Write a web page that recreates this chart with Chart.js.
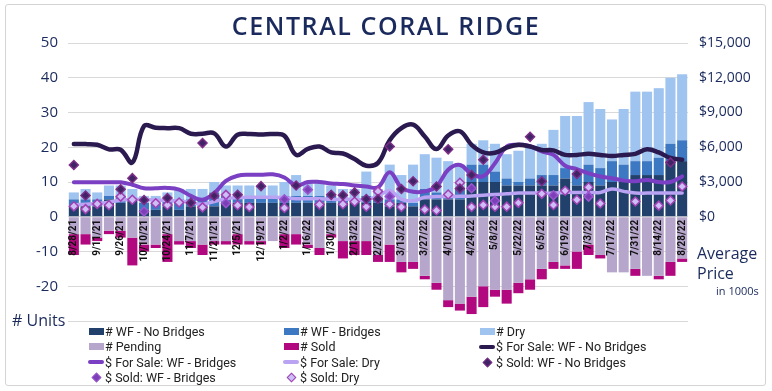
<!DOCTYPE html>
<html lang="en">
<head>
  <meta charset="UTF-8" />
  <title>Central Coral Ridge</title>
  <script src="https://cdn.jsdelivr.net/npm/chart.js"></script>
  <style>
    html, body { margin: 0; padding: 0; background: #fff; }
    #wrap { position: relative; width: 772px; height: 391px; overflow: hidden; font-family: 'Open Sans', sans-serif; color: #1c2b5a; }
    #frame { position: absolute; left: 5px; top: 4px; width: 759px; height: 380px; border: 1px solid #d4d4d4; border-radius: 3px; }
    #title { position: absolute; left: 0; top: 8px; width: 772px; text-align: center; font-size: 25px; font-weight: 600; letter-spacing: 1.6px; color: #1a2a5c; }
    canvas { position: absolute; left: 0; top: 0; }
    .side { position: absolute; color: #1a2a5c; white-space: nowrap; }
    .item { position: absolute; display: flex; align-items: center; height: 15px; font-family: Roboto, sans-serif; font-size: 12.5px; color: #222; white-space: nowrap; }
    .mk { width: 16px; height: 15px; display: flex; align-items: center; justify-content: center; margin-right: 1px; }
  </style>
</head>
<body>
  <div id="wrap">
    <div id="frame"></div>
    <canvas id="chart" width="772" height="391"></canvas>
    <div id="title">CENTRAL CORAL RIDGE</div>
    <div class="side" style="left:12px; top:309px; font-size:16px;"># Units</div>
    <div class="side" style="left:697px; top:243px; font-size:16px; line-height:20px;">Average<br>Price</div>
    <div class="side" style="left:716px; top:283px; font-size:11px;">in 1000s</div>
    <div id="legend"></div>
  </div>

  <script>
    // 주차별 날짜 (짝수 번째만 축에 표시)
    const labels = [
      '8/28/21', '9/4/21', '9/11/21', '9/19/21', '9/26/21', '10/3/21', '10/10/21', '10/17/21', '10/24/21', '10/31/21',
      '11/7/21', '11/14/21', '11/21/21', '11/28/21', '12/5/21', '12/12/21', '12/19/21', '12/26/21', '1/2/22', '1/9/22',
      '1/16/22', '1/23/22', '1/30/22', '2/6/22', '2/13/22', '2/20/22', '2/27/22', '3/6/22', '3/13/22', '3/20/22',
      '3/27/22', '4/3/22', '4/10/22', '4/17/22', '4/24/22', '5/1/22', '5/8/22', '5/15/22', '5/22/22', '5/29/22',
      '6/5/22', '6/12/22', '6/19/22', '6/26/22', '7/3/22', '7/10/22', '7/17/22', '7/24/22', '7/31/22', '8/7/22',
      '8/14/22', '8/21/22', '8/28/22'
    ];

    // # units (left axis)
    const wfNoBridges = [
      3, 3, 3, 5, 4, 5, 2, 2, 3, 2, 3, 3, 3,
      4, 4, 4, 4, 4, 4, 4, 4, 4, 4, 4, 4, 4, 4,
      3, 4, 3, 5, 5, 5, 5, 10, 10, 10, 9, 9, 9, 9,
      9, 11, 9, 10, 9, 10, 10, 12, 12, 12, 16, 16
    ];
    const wfBridges = [
      2, 2, 2, 1, 2, 0, 2, 2, 2, 3, 2, 2, 4,
      2, 2, 2, 2, 2, 2, 2, 2, 2, 2, 1, 1, 2, 1,
      2, 1, 1, 3, 2, 1, 3, 5, 5, 3, 2, 1, 2, 3,
      3, 3, 3, 5, 5, 6, 5, 4, 4, 5, 5, 6
    ];
    const dry = [
      2, 3, 2, 3, 3, 3, 2, 2, 2, 3, 3, 3, 3,
      3, 3, 3, 3, 3, 4, 6, 4, 4, 3, 3, 3, 7, 3,
      10, 7, 11, 10, 10, 10, 7, 6, 7, 8, 7, 9, 9, 9,
      13, 15, 17, 18, 17, 12, 16, 20, 20, 20, 19, 19
    ];
    const pending = [
      -5, -5, -6, -4, -4, -6, -8, -8, -5, -7, -7, -8, -7,
      -7, -5, -7, -7, -7, -5, -5, -8, -9, -5, -7, -7, -7, -11,
      -8, -13, -13, -17, -19, -24, -25, -23, -20, -21, -21, -19, -18, -15,
      -13, -14, -10, -8, -11, -16, -16, -15, -17, -17, -13, -12
    ];
    const sold = [
      -6, -3, -1, -1, -2, -8, -2, -1, -8, -1, -2, -3, -1,
      -1, -3, -1, -1, 0, -4, -3, -1, -2, -1, -5, -4, -4, -2,
      -5, -3, -2, -1, -2, -2, -2, -5, -6, -2, -4, -3, -3, -3,
      -2, -1, -5, -3, -1, 0, 0, -2, 0, -1, -4, -1
    ];

    // $ average price (right axis)
    const forSaleNoBridges = [
      6270, 6270, 6210, 5820, 5790, 4680, 7830, 7680, 7650, 7650,
      7170, 7170, 7200, 6060, 7080, 7140, 7110, 7140, 6990, 5340,
      5850, 6060, 5550, 5460, 4980, 4410, 4650, 6600, 7650, 7950,
      6930, 5850, 7020, 7380, 6210, 5550, 5520, 5970, 6210, 6060,
      5760, 5730, 5340, 5340, 5430, 5340, 5250, 5340, 5430, 5820,
      5550, 5070, 4920
    ];
    const forSaleBridges = [
      2970, 2970, 2970, 2970, 2970, 2760, 2460, 2460, 2490, 2340,
      1800, 1470, 2040, 3090, 3540, 3630, 3630, 3660, 3390, 2700,
      3000, 3000, 2880, 2820, 2700, 2610, 2550, 3840, 2520, 2160,
      2190, 2610, 4050, 4470, 3690, 3510, 4620, 6060, 6210, 6090,
      5640, 5340, 4410, 4110, 3750, 3480, 3330, 3120, 3060, 3180,
      3000, 3000, 3480
    ];
    const forSaleDry = [
      1020, 1080, 1140, 1260, 1440, 1500, 1500, 1440, 1410, 1350,
      1230, 1080, 1320, 1560, 1650, 1680, 1680, 1680, 1650, 1560,
      1560, 1560, 1500, 1500, 1500, 1470, 1800, 2250, 1500, 1380,
      1680, 1740, 1740, 1770, 1800, 1860, 1920, 1980, 2040, 2040,
      2040, 2040, 2100, 2100, 2100, 2100, 2400, 2190, 2040, 2040,
      2040, 2040, 2040
    ];
    const soldNoBridges = [
      4470, 1830, null, null, 2370, 3330, 1440, null, 1620, null,
      1200, 6360, 1800, null, 1890, null, 2640, null, null, 2700,
      null, null, 1890, 1860, 2100, 1530, 1530, 6060, 2400, 3060,
      null, 2610, 5820, 2430, 3600, 4920, null, null, null, 6900,
      3060, null, null, 3690, null, null, null, null, null, null,
      null, 4680, null
    ];
    const soldBridges = [
      null, null, null, null, null, null, 450, null, null, null,
      null, null, null, 1170, null, null, null, null, 1500, null,
      2340, null, null, null, null, null, null, 1740, null, null,
      null, null, null, null, 2460, null, 1380, null, null, null,
      null, 1860, null, null, 1740, null, null, null, null, null,
      null, null, null
    ];
    const soldDry = [
      900, 660, 1110, 990, 1740, 1470, null, 1170, 1020, 1230,
      null, 810, null, 1890, 990, 840, null, null, 750, null,
      null, 1050, null, 1080, 1290, 870, 2190, 1080, 840, null,
      630, 540, 1920, 2940, 840, 1020, 870, 870, 1200, null,
      1980, 1020, 2250, 1470, 2550, 1140, null, null, 1320, null,
      960, 1410, 2610
    ];

    function bar(label, data, color) {
      return { type: 'bar', label, data, backgroundColor: color, stack: 'units', yAxisID: 'y',
               order: 3, barPercentage: 0.86, categoryPercentage: 1 };
    }
    function line(label, data, color, width) {
      return { type: 'line', label, data, borderColor: color, backgroundColor: color, borderWidth: width,
               yAxisID: 'y2', tension: 0.4, pointRadius: 0, order: 2, borderCapStyle: 'round' };
    }
    function dots(label, data, fill, edge) {
      return { type: 'line', label, data, showLine: false, yAxisID: 'y2', order: 1,
               pointStyle: 'rectRot', pointRadius: 4.5, pointBackgroundColor: fill,
               pointBorderColor: edge, pointBorderWidth: 1.5, backgroundColor: fill, borderColor: edge };
    }

    const datasets = [
      bar('# WF - No Bridges', wfNoBridges, '#21406c'),
      bar('# WF - Bridges', wfBridges, '#3d78c2'),
      bar('# Dry', dry, '#9fc4f0'),
      bar('# Pending', pending, '#b6a6cc'),
      bar('# Sold', sold, '#b1087f'),
      line('$ For Sale: WF - No Bridges', forSaleNoBridges, '#2a1a50', 4.5),
      line('$ For Sale: WF - Bridges', forSaleBridges, '#7a3fc2', 4),
      line('$ For Sale: Dry', forSaleDry, '#b9a3f2', 3.5),
      dots('$ Sold: WF - No Bridges', soldNoBridges, '#3f2466', '#7e2c88'),
      dots('$ Sold: WF - Bridges', soldBridges, '#7b3fb8', '#9c55d0'),
      dots('$ Sold: Dry', soldDry, '#cbbff6', '#a340b4')
    ];

    const tickColor = '#1a2a5c';

    const chart = new Chart(document.getElementById('chart'), {
      data: { labels, datasets },
      options: {
        responsive: false,
        animation: false,
        layout: { padding: { top: 43, bottom: 70, left: 0, right: 0 } },
        plugins: { legend: { display: false }, tooltip: { enabled: false } },
        scales: {
          x: {
            position: { y: 0 },
            stacked: true,
            offset: true,
            grid: { display: false, drawTicks: false },
            border: { display: false },
            ticks: {
              z: 1,
              autoSkip: false, maxRotation: 90, minRotation: 90, padding: 3,
              color: '#111',
              font: { family: "'Liberation Sans Narrow', Roboto, sans-serif", size: 10, weight: 'bold' },
              callback: (v, i) => (i % 2 === 0 ? labels[i] : '')
            }
          },
          y: {
            stacked: true,
            min: -30, max: 50,
            grid: { color: '#d9d9d9', drawTicks: false },
            border: { display: false },
            ticks: {
              stepSize: 5, padding: 10, color: tickColor,
              font: { family: "'Open Sans', sans-serif", size: 15 },
              callback: v => (v < -20 ? '' : v)
            },
            afterFit: s => { s.width = 68; }
          },
          y2: {
            position: 'right',
            min: -9000, max: 15000,
            grid: { display: false, drawTicks: false },
            border: { display: false },
            ticks: {
              stepSize: 1500, padding: 11, color: tickColor,
              font: { family: "'Open Sans', sans-serif", size: 14 },
              callback: v => (v < 0 ? '' : '$' + v.toLocaleString('en-US'))
            },
            afterFit: s => { s.width = 84; }
          }
        }
      }
    });

    // 범례: 3열 그리드로 직접 그림
    const legendBox = document.getElementById('legend');
    const colX = [88, 283, 479];
    chart.data.datasets.forEach((ds, i) => {
      const row = Math.floor(i / 3), col = i % 3;
      const item = document.createElement('div');
      item.className = 'item';
      item.style.left = colX[col] + 'px';
      item.style.top = (324 + row * 15.3) + 'px';
      let mk;
      if (ds.type === 'bar') {
        mk = `<span style="display:block;width:15px;height:7px;background:${ds.backgroundColor}"></span>`;
      } else if (ds.showLine === false) {
        mk = `<span style="display:block;width:5px;height:5px;transform:rotate(45deg);background:${ds.pointBackgroundColor};border:1.2px solid ${ds.pointBorderColor}"></span>`;
      } else {
        mk = `<span style="display:block;width:17px;height:4px;border-radius:2px;background:${ds.borderColor}"></span>`;
      }
      item.innerHTML = `<span class="mk">${mk}</span><span>${ds.label}</span>`;
      legendBox.appendChild(item);
    });
  </script>
</body>
</html>
